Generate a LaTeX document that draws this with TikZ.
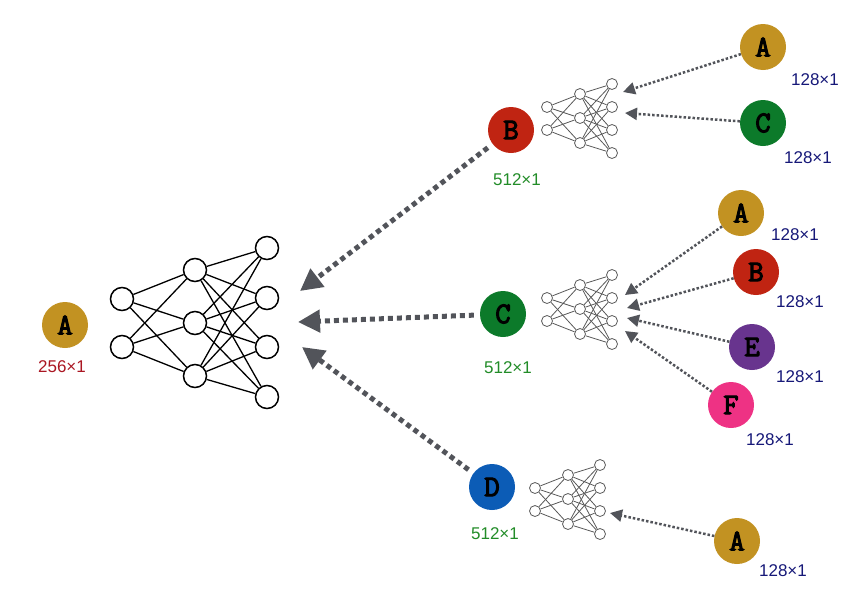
\documentclass[tikz,border=0pt]{standalone}
\usepackage{fontspec}
\setmainfont{Liberation Sans}
\newfontfamily\letterfont{Latin Modern Mono}[FakeBold=3.5]
\usetikzlibrary{arrows.meta}

\definecolor{cgold}{RGB}{194,146,34}
\definecolor{cred}{RGB}{192,36,18}
\definecolor{cgreen}{RGB}{12,122,42}
\definecolor{cblue}{RGB}{12,92,182}
\definecolor{cpurple}{RGB}{104,52,142}
\definecolor{cpink}{RGB}{238,50,132}
\definecolor{ldred}{RGB}{170,22,34}
\definecolor{ldgreen}{RGB}{34,140,40}
\definecolor{ldblue}{RGB}{22,24,120}
\definecolor{arrgray}{RGB}{82,84,90}

\tikzset{
	ball/.style={circle,inner sep=0pt,minimum size=46pt,font=\letterfont\fontsize{30}{30}\selectfont},
	neuron/.style={circle,draw,line width=1.5pt,inner sep=0pt,minimum size=23pt},
	tiny/.style={circle,draw=black!65,line width=0.8pt,inner sep=0pt,minimum size=11pt},
	dimlabel/.style={font=\fontsize{17}{17}\selectfont},
	bigarrow/.style={arrgray,line width=5pt,dash pattern=on 5pt off 4pt,shorten <=6pt,
		-{Triangle[length=22pt,width=22pt]}},
	smallarrow/.style={arrgray,line width=2.5pt,dash pattern=on 2.5pt off 2pt,
		-{Triangle[length=12pt,width=12pt]}}
}

\begin{document}
\begin{tikzpicture}[x=1pt,y=-1pt]
	\useasboundingbox (0,0) rectangle (850,592);

	% input
	\node[ball,fill=cgold] (A) at (65,325) {A};
	\node[dimlabel,ldred] (lA) at (62,367) {256×1};

	% big network
	\begin{scope}[every node/.style={neuron}]
	\node (n1-1) at (122,299) {};
	\node (n1-2) at (122,347) {};
	\node (n2-1) at (195,270) {};
	\node (n2-2) at (195,323) {};
	\node (n2-3) at (195,376) {};
	\node (n3-1) at (267,248) {};
	\node (n3-2) at (267,298) {};
	\node (n3-3) at (267,347) {};
	\node (n3-4) at (267,397) {};
	\end{scope}
	\foreach \i in {1,2}
		\foreach \j in {1,2,3}
			\draw [line width=1.3pt] (n1-\i) -- (n2-\j);
	\foreach \i in {1,2,3}
		\foreach \j in {1,2,3,4}
			\draw [line width=1.3pt] (n2-\i) -- (n3-\j);

	% second level
	\node[ball,fill=cred] (B) at (511,130) {B};
	\node[ball,fill=cgreen] (C) at (503,314) {C};
	\node[ball,fill=cblue] (D) at (492,487) {D};
	\node[dimlabel,ldgreen] (lB) at (517,180) {512×1};
	\node[dimlabel,ldgreen] (lC) at (508,368) {512×1};
	\node[dimlabel,ldgreen] (lD) at (495,534) {512×1};

	\coordinate (tB) at (300,291);
	\coordinate (tC) at (298,322);
	\coordinate (tD) at (302,347);
	\draw [bigarrow] (B) -- (tB);
	\draw [bigarrow] (C) -- (tC);
	\draw [bigarrow] (D) -- (tD);

	% small networks
	\foreach \p/\px/\py in {b/547/107,c/547/298,d/535/488} {
		\begin{scope}[shift={(\px,\py)}]
		\node[tiny] (\p1-1) at (0,0) {};
		\node[tiny] (\p1-2) at (0,23) {};
		\node[tiny] (\p2-1) at (33,-13) {};
		\node[tiny] (\p2-2) at (33,11) {};
		\node[tiny] (\p2-3) at (33,36) {};
		\node[tiny] (\p3-1) at (65,-23) {};
		\node[tiny] (\p3-2) at (65,0) {};
		\node[tiny] (\p3-3) at (65,23) {};
		\node[tiny] (\p3-4) at (65,46) {};
		\end{scope}
		\foreach \i in {1,2}
			\foreach \j in {1,2,3}
				\draw [black!65,line width=0.8pt] (\p1-\i) -- (\p2-\j);
		\foreach \i in {1,2,3}
			\foreach \j in {1,2,3,4}
				\draw [black!65,line width=0.8pt] (\p2-\i) -- (\p3-\j);
	}

	% third level, into B
	\node[ball,fill=cgold] (BA) at (763,47) {A};
	\node[ball,fill=cgreen] (BC) at (763,123) {C};
	\node[dimlabel,ldblue] (lBA) at (815,80) {128×1};
	\node[dimlabel,ldblue] (lBC) at (808,158) {128×1};
	\coordinate (tBA) at (623,92);
	\coordinate (tBC) at (625,113);
	\draw [smallarrow] (BA) -- (tBA);
	\draw [smallarrow] (BC) -- (tBC);

	% into C
	\node[ball,fill=cgold] (CA) at (741,213) {A};
	\node[ball,fill=cred] (CB) at (756,272) {B};
	\node[ball,fill=cpurple] (CE) at (752,347) {E};
	\node[ball,fill=cpink] (CF) at (731,405) {F};
	\node[dimlabel,ldblue] (lCA) at (795,235) {128×1};
	\node[dimlabel,ldblue] (lCB) at (800,302) {128×1};
	\node[dimlabel,ldblue] (lCE) at (800,377) {128×1};
	\node[dimlabel,ldblue] (lCF) at (770,440) {128×1};
	\coordinate (tCA) at (625,295);
	\coordinate (tCB) at (627,308);
	\coordinate (tCE) at (627,318);
	\coordinate (tCF) at (625,331);
	\draw [smallarrow] (CA) -- (tCA);
	\draw [smallarrow] (CB) -- (tCB);
	\draw [smallarrow] (CE) -- (tCE);
	\draw [smallarrow] (CF) -- (tCF);

	% into D
	\node[ball,fill=cgold] (DA) at (737,541) {A};
	\node[dimlabel,ldblue] (lDA) at (783,571) {128×1};
	\coordinate (tDA) at (610,513);
	\draw [smallarrow] (DA) -- (tDA);
\end{tikzpicture}
\end{document}
